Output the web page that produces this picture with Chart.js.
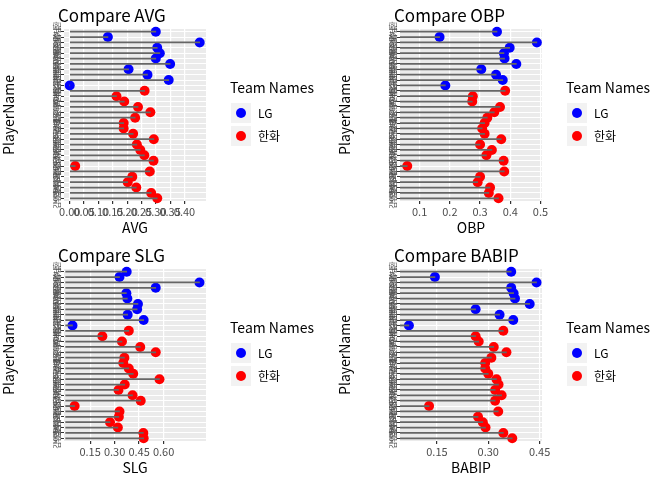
<!DOCTYPE html>
<html>
<head>
<meta charset="utf-8">
<script src="https://cdn.jsdelivr.net/npm/chart.js@4"></script>
<style>
  body { margin: 0; background: #fff; }
  #grid { display: grid; grid-template-columns: 336px 336px; grid-template-rows: 240px 240px; }
  .cell { position: relative; width: 336px; height: 240px; }
</style>
</head>
<body>
<div id="grid">
  <div class="cell"><canvas id="cAVG"></canvas></div>
  <div class="cell"><canvas id="cOBP"></canvas></div>
  <div class="cell"><canvas id="cSLG"></canvas></div>
  <div class="cell"><canvas id="cBABIP"></canvas></div>
</div>
<script>
// players top to bottom
const names = ['오지환', '유강남', '김현수', '채은성', '이형종', '박용택', '정주현', '양석환', '이천웅', '김민성', '백승현',
  '이용규', '최재훈', '하주석', '송광민', '정근우', '호잉', '김태균', '이성열', '정은원', '장진혁', '지성준',
  '최진행', '노시환', '유장혁', '강경학', '오선진', '김회성', '변우혁', '양성우', '백창수', '김인환']
const teams = ['LG', 'LG', 'LG', 'LG', 'LG', 'LG', 'LG', 'LG', 'LG', 'LG', 'LG',
  '한화', '한화', '한화', '한화', '한화', '한화', '한화', '한화', '한화', '한화', '한화',
  '한화', '한화', '한화', '한화', '한화', '한화', '한화', '한화', '한화', '한화']
const avg = [0.300, 0.133, 0.453, 0.305, 0.314, 0.300, 0.350, 0.205, 0.271, 0.345, 0.000,
  0.261, 0.163, 0.190, 0.238, 0.281, 0.228, 0.188, 0.188, 0.221, 0.293, 0.234,
  0.246, 0.260, 0.292, 0.019, 0.279, 0.218, 0.202, 0.232, 0.284, 0.305]
const obp = [0.356, 0.166, 0.488, 0.398, 0.379, 0.381, 0.420, 0.304, 0.353, 0.375, 0.185,
  0.383, 0.276, 0.274, 0.366, 0.347, 0.324, 0.315, 0.307, 0.315, 0.370, 0.300,
  0.339, 0.321, 0.378, 0.059, 0.380, 0.300, 0.292, 0.333, 0.329, 0.361]
const slg = [0.374, 0.330, 0.820, 0.552, 0.372, 0.378, 0.443, 0.438, 0.380, 0.478, 0.042,
  0.387, 0.225, 0.345, 0.457, 0.552, 0.360, 0.353, 0.387, 0.414, 0.575, 0.362,
  0.324, 0.410, 0.460, 0.055, 0.330, 0.326, 0.272, 0.320, 0.476, 0.478]
const babip = [0.367, 0.144, 0.441, 0.367, 0.374, 0.378, 0.421, 0.263, 0.333, 0.373, 0.068,
  0.344, 0.263, 0.272, 0.316, 0.353, 0.309, 0.291, 0.291, 0.300, 0.324, 0.330,
  0.320, 0.339, 0.320, 0.127, 0.329, 0.270, 0.284, 0.292, 0.344, 0.370]
const legendTeams = ['LG', '한화']

const FONT = "'Noto Sans CJK KR', 'Noto Sans', sans-serif"
const teamColor = { 'LG': '#0000FF', '한화': '#FF0000' }

const panelDeco = {
  id: 'panelDeco',
  beforeDraw(chart) {
    const { ctx, chartArea: a } = chart
    ctx.save()
    ctx.fillStyle = '#EBEBEB'
    ctx.fillRect(a.left, a.top, a.right - a.left, a.bottom - a.top)
    ctx.restore()
  },
  afterDraw(chart) {
    const { ctx, chartArea: a } = chart
    const y = chart.scales.y
    ctx.save()
    // rotated player names
    ctx.fillStyle = '#4D4D4D'
    ctx.font = '7.5px ' + FONT
    ctx.textAlign = 'center'
    ctx.textBaseline = 'bottom'
    names.forEach((n, i) => {
      ctx.save()
      ctx.translate(a.left - 3, y.getPixelForValue(i))
      ctx.rotate(-Math.PI / 2)
      ctx.fillText(n, 0, 0)
      ctx.restore()
    })
    // title
    ctx.fillStyle = '#000'
    ctx.textAlign = 'left'
    ctx.textBaseline = 'middle'
    ctx.font = '17px ' + FONT
    ctx.fillText('Compare ' + chart.options.plugins.panelDeco.label, 58, 16)
    // legend
    ctx.font = '14px ' + FONT
    ctx.fillText('Team Names', 230, 88)
    ctx.font = '12px ' + FONT
    legendTeams.forEach((t, i) => {
      const cy = 113 + i * 23
      ctx.fillStyle = '#F2F2F2'
      ctx.fillRect(231, cy - 10, 20, 20)
      ctx.fillStyle = teamColor[t]
      ctx.beginPath()
      ctx.arc(241, cy, 5, 0, Math.PI * 2)
      ctx.fill()
      ctx.fillStyle = '#000'
      ctx.fillText(t, 258, cy)
    })
    ctx.restore()
  }
}

function makePanel(id, label, values, min, max, step, first, last) {
  const points = values.map((v, i) => ({ x: v, y: names[i] }))
  new Chart(document.getElementById(id), {
    data: {
      labels: names,
      datasets: [
        {
          type: 'bar', indexAxis: 'y', label: 'seg',
          data: values, backgroundColor: '#666666',
          barThickness: 1.2, base: 0
        },
        {
          type: 'scatter', label: 'LG',
          data: points.filter((p, i) => teams[i] === 'LG'),
          backgroundColor: teamColor['LG'], borderWidth: 0, pointRadius: 5
        },
        {
          type: 'scatter', label: '한화',
          data: points.filter((p, i) => teams[i] === '한화'),
          backgroundColor: teamColor['한화'], borderWidth: 0, pointRadius: 5
        }
      ]
    },
    options: {
      responsive: false,
      animation: false,
      layout: { padding: { top: 29, right: 130, bottom: 4, left: 0 } },
      scales: {
        x: {
          type: 'linear', min: min, max: max,
          afterBuildTicks: s => {
            const t = []
            for (let v = first; v <= last + 1e-9; v += step) t.push({ value: +v.toFixed(3) })
            s.ticks = t
          },
          ticks: {
            autoSkip: false, maxRotation: 0, color: '#4D4D4D',
            font: { family: FONT, size: 11 }, padding: 1,
            callback: v => (+v).toFixed(step < 0.1 ? 2 : (step === 0.1 ? 1 : 2))
          },
          grid: { color: '#FFFFFF', lineWidth: 1.2, tickLength: 3, tickColor: '#333' },
          border: { display: false },
          title: { display: true, text: label, color: '#000', font: { family: FONT, size: 14 }, padding: 0 }
        },
        y: {
          type: 'category', labels: names, offset: true,
          ticks: { display: false },
          grid: { color: '#FFFFFF', lineWidth: 1, offset: false, tickLength: 3, tickColor: '#333' },
          border: { display: false },
          afterFit: s => { s.width = 64 },
          title: { display: true, text: 'PlayerName', color: '#000', font: { family: FONT, size: 14 }, padding: 0 }
        }
      },
      plugins: {
        tooltip: { enabled: false },
        title: { display: false },
        legend: { display: false },
        panelDeco: { label: label }
      }
    },
    plugins: [panelDeco]
  })
}

document.querySelectorAll('canvas').forEach(c => { c.width = 336; c.height = 240 })
makePanel('cAVG', 'AVG', avg, -0.02, 0.475, 0.05, 0, 0.4)
makePanel('cOBP', 'OBP', obp, 0.035, 0.505, 0.1, 0.1, 0.5)
makePanel('cSLG', 'SLG', slg, -0.01, 0.86, 0.15, 0.15, 0.6)
makePanel('cBABIP', 'BABIP', babip, 0.042, 0.457, 0.15, 0.15, 0.45)
</script>
</body>
</html>
